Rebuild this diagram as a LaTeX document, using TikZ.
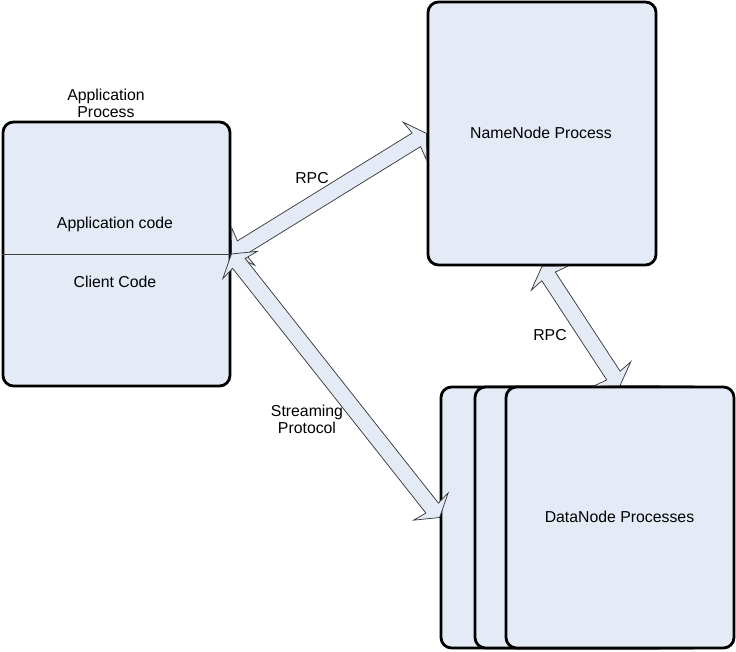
\documentclass[tikz,border=0pt]{standalone}
\usepackage{fontspec}
\setmainfont{Liberation Sans}
\usetikzlibrary{calc}

\definecolor{boxfill}{RGB}{228,234,246}

\newcommand{\blockarrow}[2]{%
  \draw[flowarrow] let \p1=(#1), \p2=(#2),
      \n1={atan2(\y2-\y1,\x2-\x1)}, \n2={veclen(\x2-\x1,\y2-\y1)} in
      [shift={(\p1)}, rotate=\n1]
      (0pt,0pt) -- (11.95pt,18.8pt) -- (10.24pt,6.83pt) -- ({\n2-10.24pt},6.83pt)
      -- ({\n2-11.95pt},18.8pt) -- ({\n2+0pt},0pt) -- ({\n2-11.95pt},-18.8pt)
      -- ({\n2-10.24pt},-6.83pt) -- (10.24pt,-6.83pt) -- (11.95pt,-18.8pt) -- cycle;
}

\begin{document}
\begin{tikzpicture}[x=0.03cm,y=-0.03cm,
    procbox/.style={draw=black,line width=2.4pt,fill=boxfill,rounded corners=9pt,inner sep=0pt},
    flowarrow/.style={draw=black!80,line width=0.6pt,fill=boxfill},
    lbl/.style={font=\fontsize{13.5pt}{14.5pt}\selectfont,inner sep=0pt,align=center}]

    \useasboundingbox (0,0) rectangle (736,652);

    \node[procbox,minimum width=6.81cm,minimum height=7.92cm] (app) at (116.5,254) {};
    \draw[black!75,line width=0.8pt] (app.west)--(app.east);
    \node[procbox,minimum width=6.84cm,minimum height=7.89cm] (nn) at (542,133.5) {};
    \node[procbox,minimum width=6.84cm,minimum height=7.83cm] (dnA) at (555,517.5) {};
    \node[procbox,minimum width=6.84cm,minimum height=7.83cm] (dnB) at (589,517.5) {};
    \node[procbox,minimum width=6.84cm,minimum height=7.83cm] (dnC) at (620,517.5) {};

    \node[lbl] (apptitle) at (106,103.5) {Application\\Process};
    \node[lbl] (appcode) at (115,224.5) {Application code};
    \node[lbl] (clientcode) at (115,281.5) {Client Code};
    \node[lbl] (nntext) at (541,133) {NameNode Process};
    \node[lbl] (dntext) at (619.5,517) {DataNode Processes};

    \blockarrow{app.east}{nn.west}
    \blockarrow{app.east}{dnA.west}
    \blockarrow{nn.south}{dnC.north}

    \node[lbl] (rpcA) at (312,178) {RPC};
    \node[lbl] (rpcB) at (550,335) {RPC};
    \node[lbl] (stream) at (307,419) {Streaming\\Protocol};
\end{tikzpicture}
\end{document}
